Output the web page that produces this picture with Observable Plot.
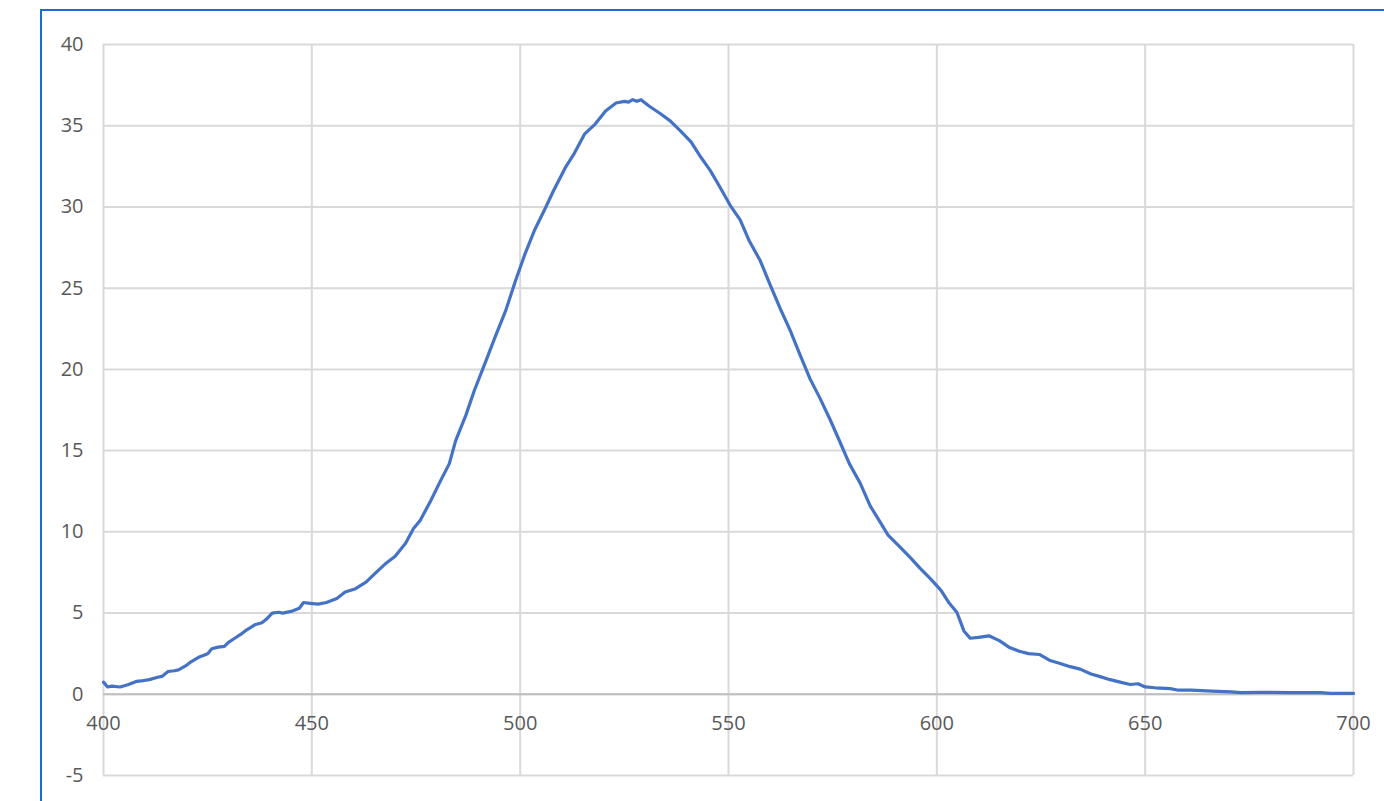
<!DOCTYPE html>
<html>
<head>
<meta charset="utf-8">
<script src="https://cdn.jsdelivr.net/npm/d3@7"></script>
<script src="https://cdn.jsdelivr.net/npm/@observablehq/plot@0.6"></script>
<style>
  html, body { margin: 0; padding: 0; background: #fff; width: 1384px; height: 801px; overflow: hidden; }
  #frame { position: absolute; left: 40px; top: 9px; width: 1400px; height: 820px; border-left: 2px solid #1f6bd1; border-top: 2px solid #1f6bd1; box-sizing: border-box; }
  #chart { position: absolute; left: 0; top: 0; }
</style>
</head>
<body>
<div id="frame"></div>
<div id="chart"></div>
<script>
// Wavelength (nm)
const wavelength = [
  400, 401, 402, 404, 406, 408, 409, 411, 413, 414, 415.5, 417, 418, 420, 421, 423, 425, 426, 427.5, 429,
  430, 431.5, 433, 434, 436.5, 438, 439, 440.5, 442, 443, 445, 447, 448, 449.6, 451.5, 453.5, 456, 458,
  460.5, 463, 465, 467.5, 470, 472.5, 474.4, 476, 478.5, 481, 483, 484.5, 487, 489, 491.6, 494, 496.5,
  498.8, 501, 503.5, 506, 508, 510.8, 513, 515.5, 518, 520.5, 523, 525, 526, 527, 528, 529, 531, 533.6,
  536, 538.4, 541, 543, 545.6, 548, 550.4, 552.8, 555, 557.6, 560, 562.4, 564.8, 567, 569.6, 572, 574.4,
  576.8, 579, 581.6, 584, 586.4, 588.3, 591, 593.7, 596, 598.5, 601, 603, 604.8, 606.5, 608, 610, 612.5,
  615, 617.3, 619.8, 622, 624.6, 627, 629.6, 632, 634.4, 637, 639, 641.6, 644, 646.4, 648.3, 650, 652.4,
  656, 658, 661, 666, 670.6, 673, 677.6, 685, 692, 694.5, 700
];
// Intensity
const intensity = [
  0.75, 0.45, 0.5, 0.45, 0.6, 0.8, 0.82, 0.9, 1.05, 1.1, 1.4, 1.45, 1.5, 1.8, 2.0, 2.3, 2.5, 2.8, 2.9, 2.95,
  3.2, 3.45, 3.7, 3.9, 4.3, 4.4, 4.6, 5.0, 5.05, 5.0, 5.1, 5.3, 5.65, 5.6, 5.55, 5.65, 5.9, 6.3,
  6.5, 6.9, 7.4, 8.0, 8.5, 9.3, 10.2, 10.7, 11.9, 13.2, 14.2, 15.6, 17.2, 18.7, 20.4, 22.0, 23.6,
  25.4, 27.0, 28.6, 29.9, 31.0, 32.4, 33.3, 34.5, 35.1, 35.9, 36.4, 36.5, 36.45, 36.6, 36.5, 36.6, 36.2, 35.75,
  35.3, 34.7, 34.0, 33.2, 32.25, 31.2, 30.1, 29.2, 27.9, 26.7, 25.2, 23.75, 22.4, 21.0, 19.4, 18.2, 16.9,
  15.5, 14.2, 13.0, 11.6, 10.6, 9.8, 9.1, 8.4, 7.75, 7.1, 6.4, 5.6, 5.05, 3.9, 3.45, 3.5, 3.6,
  3.3, 2.9, 2.65, 2.5, 2.45, 2.1, 1.9, 1.7, 1.55, 1.25, 1.1, 0.9, 0.75, 0.6, 0.65, 0.45, 0.4,
  0.35, 0.25, 0.25, 0.2, 0.15, 0.1, 0.12, 0.1, 0.1, 0.05, 0.05
];
const xTicks = [400, 450, 500, 550, 600, 650, 700];
const yTicks = [-5, 0, 5, 10, 15, 20, 25, 30, 35, 40];

const data = wavelength.map((w, i) => ({w, v: intensity[i]}));

const chart = Plot.plot({
  width: 1384,
  height: 801,
  marginLeft: 103,
  marginRight: 31,
  marginTop: 44,
  marginBottom: 26,
  style: {fontFamily: "'Open Sans', sans-serif", fontSize: "20px", color: "#595959", background: "transparent"},
  x: {domain: [400, 700], axis: null},
  y: {domain: [-5, 40], axis: null},
  marks: [
    Plot.gridX(xTicks, {stroke: "#d9d9d9", strokeOpacity: 1, strokeWidth: 2}),
    Plot.gridY(yTicks, {stroke: "#d9d9d9", strokeOpacity: 1, strokeWidth: 2}),
    Plot.ruleY([0], {stroke: "#bfbfbf", strokeWidth: 2}),
    Plot.axisY(yTicks, {tickSize: 0, tickPadding: 20, fill: "#595959", fontSize: 20, label: null, tickFormat: d => String(d)}),
    Plot.text(xTicks, {x: d => d, y: 0, text: d => String(d), dy: 29, fill: "#595959", fontSize: 20, textAnchor: "middle"}),
    Plot.line(data, {x: "w", y: "v", stroke: "#4472c4", strokeWidth: 3.2, strokeLinejoin: "round", strokeLinecap: "round"})
  ]
});
document.getElementById("chart").appendChild(chart);
</script>
</body>
</html>
